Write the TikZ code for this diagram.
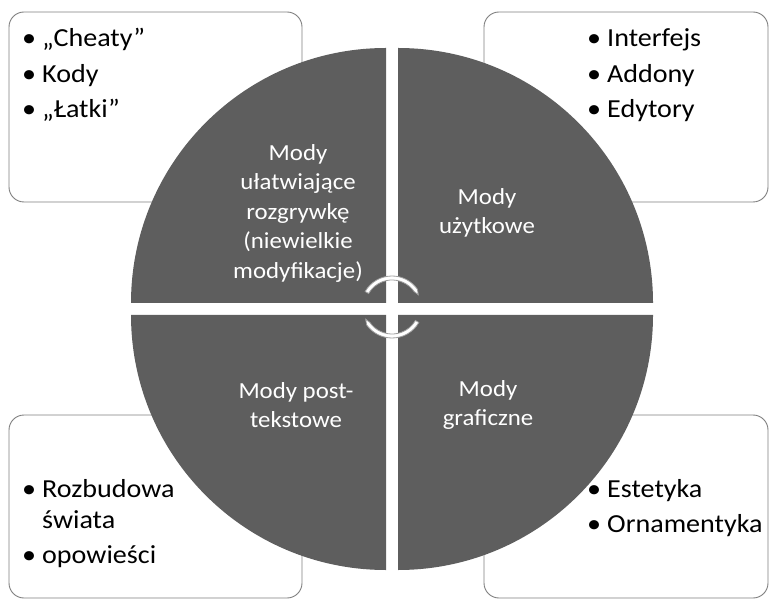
\documentclass[tikz,border=0pt]{standalone}
\usepackage{fontspec}
\setmainfont{Carlito}[FakeStretch=1.08]
\definecolor{quarter-gray}{HTML}{5E5E5E}
\definecolor{frame-gray}{HTML}{7F7F7F}
\newcommand{\labelfont}{\fontsize{23}{29.5}\selectfont}
\newcommand{\itemfont}{\fontsize{26}{31}\selectfont}
\newcommand{\blt}{\makebox[20pt][l]{\textbullet}}
\tikzset{
    list-box/.style = {draw=frame-gray, fill=white, line width=0.9pt, rounded corners=15pt},
    quarter/.style = {fill=quarter-gray},
    quarter-label/.style = {text=white, font=\labelfont, align=center, inner sep=0pt},
    item-list/.style = {anchor=base west, font=\itemfont, inner sep=0pt},
    cycle-arrow/.style = {draw=gray!75, fill=white, line width=0.8pt},
}
\begin{document}
\begin{tikzpicture}[x=1pt,y=1pt]
\useasboundingbox (0,0) rectangle (770,600);

% boxes behind the circle
\draw[list-box] (9,398) rectangle (302,588);
\draw[list-box] (484,398) rectangle (768,588);
\draw[list-box] (9,2) rectangle (302,185);
\draw[list-box] (484,2) rectangle (768,185);

% four quarters
\fill[quarter] (386,297) -- (131,297) arc[start angle=180, end angle=90, radius=255] -- cycle;
\fill[quarter] (398,297) -- (398,552) arc[start angle=90, end angle=0, radius=255] -- cycle;
\fill[quarter] (386,285) -- (386,30) arc[start angle=270, end angle=180, radius=255] -- cycle;
\fill[quarter] (398,285) -- (653,285) arc[start angle=0, end angle=-90, radius=255] -- cycle;

% labels
\node[quarter-label] (easy) at (298,387) {Mody\\ułatwiające\\rozgrywkę\\(niewielkie\\modyfikacje)};
\node[quarter-label] (useful) at (487,387) {Mody\\użytkowe};
\node[quarter-label] (posttext) at (296,195) {Mody post-\\tekstowe};
\node[quarter-label] (graphic) at (488,195) {Mody\\graficzne};

% lists
\node[item-list] (cheats-list) at (22,553) {\begin{tabular}[t]{@{}l@{}l@{}}
    \blt & „Cheaty” \\[4.5pt]
    \blt & Kody \\[4.5pt]
    \blt & „Łatki”
\end{tabular}};
\node[item-list] (ui-list) at (587,553) {\begin{tabular}[t]{@{}l@{}l@{}}
    \blt & Interfejs \\[4.5pt]
    \blt & Addony \\[4.5pt]
    \blt & Edytory
\end{tabular}};
\node[item-list] (world-list) at (22,103) {\begin{tabular}[t]{@{}l@{}l@{}}
    \blt & Rozbudowa \\
         & świata \\[4pt]
    \blt & opowieści
\end{tabular}};
\node[item-list] (art-list) at (587,103) {\begin{tabular}[t]{@{}l@{}l@{}}
    \blt & Estetyka \\[4.5pt]
    \blt & Ornamentyka
\end{tabular}};

% circular arrows in the middle
\coordinate (hub) at (392,293);
\begin{scope}[shift={(hub)}]
\path[cycle-arrow] (150:31) arc[start angle=150, end angle=35, radius=31] -- (25:29)
    -- (35:27) arc[start angle=35, end angle=150, radius=27] -- cycle;
\path[cycle-arrow] (-30:31) arc[start angle=-30, end angle=-145, radius=31] -- (-155:29)
    -- (-145:27) arc[start angle=-145, end angle=-30, radius=27] -- cycle;
\end{scope}
\end{tikzpicture}
\end{document}
